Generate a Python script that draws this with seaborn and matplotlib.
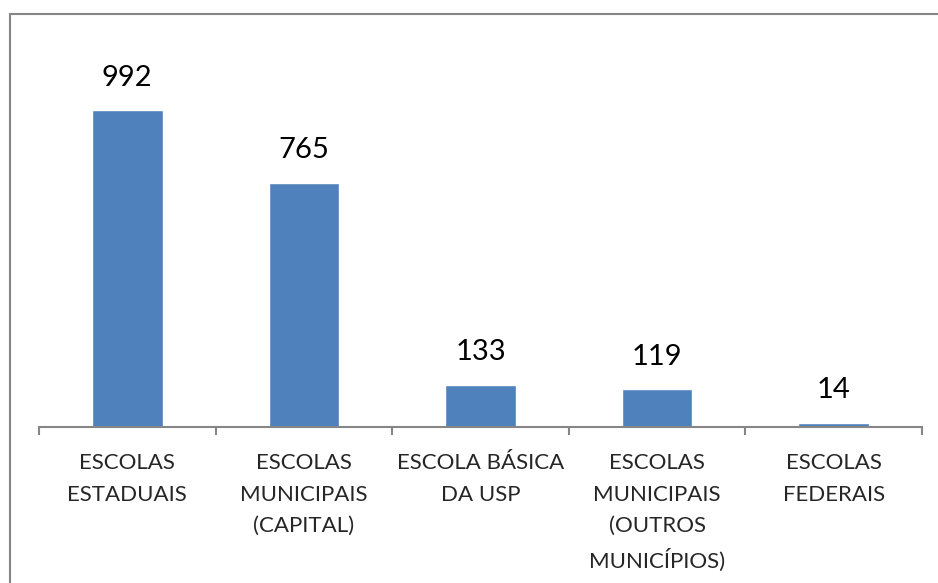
import matplotlib
matplotlib.use("Agg")
import matplotlib.pyplot as plt
import seaborn as sns
import pandas as pd
from matplotlib.patches import Rectangle

# chart data
categorias = ["ESCOLAS\nESTADUAIS", "ESCOLAS\nMUNICIPAIS\n(CAPITAL)", "ESCOLA BÁSICA\nDA USP",
              "ESCOLAS\nMUNICIPAIS\n(OUTROS\nMUNICÍPIOS)", "ESCOLAS\nFEDERAIS"]
valores = [992, 765, 133, 119, 14]

df = pd.DataFrame({"categoria": categorias, "valor": valores})

sns.set_theme(style="white")
plt.rcParams["font.family"] = ["Lato", "DejaVu Sans"]

fig = plt.figure(figsize=(9.38, 5.83), dpi=100)
ax = fig.add_axes([39 / 938, 1 - 427 / 583, (922 - 39) / 938, (427 - 44) / 583])

sns.barplot(data=df, x="categoria", y="valor", color="#4F81BD", width=0.4,
            saturation=1, ax=ax)

ax.set_ylim(0, 1200)
ax.set_xlim(-0.5, len(categorias) - 0.5)
ax.set_xlabel("")
ax.set_ylabel("")
ax.set_yticks([])

for side in ["top", "right", "left"]:
    ax.spines[side].set_visible(False)
ax.spines["bottom"].set_color("#868686")
ax.spines["bottom"].set_linewidth(1.5)

# labels at centers, tick marks at boundaries
ax.set_xticks(range(len(categorias)))
ax.set_xticklabels(categorias, fontsize=16, linespacing=1.7, va="top")
ax.tick_params(axis="x", which="major", length=0, pad=19)
ax.set_xticks([i - 0.5 for i in range(len(categorias) + 1)], minor=True)
ax.tick_params(axis="x", which="minor", length=6, width=1.5, color="#868686",
               direction="out", bottom=True)

for i, v in enumerate(valores):
    ax.annotate(str(v), (i, v), xytext=(0, 14), textcoords="offset points",
                ha="center", va="bottom", fontsize=21, color="black")

# outer chart border (top and left edges visible)
fig.patches.append(Rectangle((10 / 938, -0.05), 1.1, 1 - 14 / 583 + 0.05,
                             transform=fig.transFigure, fill=False,
                             edgecolor="#868686", linewidth=1.5, clip_on=False))

fig.savefig("out.png", dpi=100)
